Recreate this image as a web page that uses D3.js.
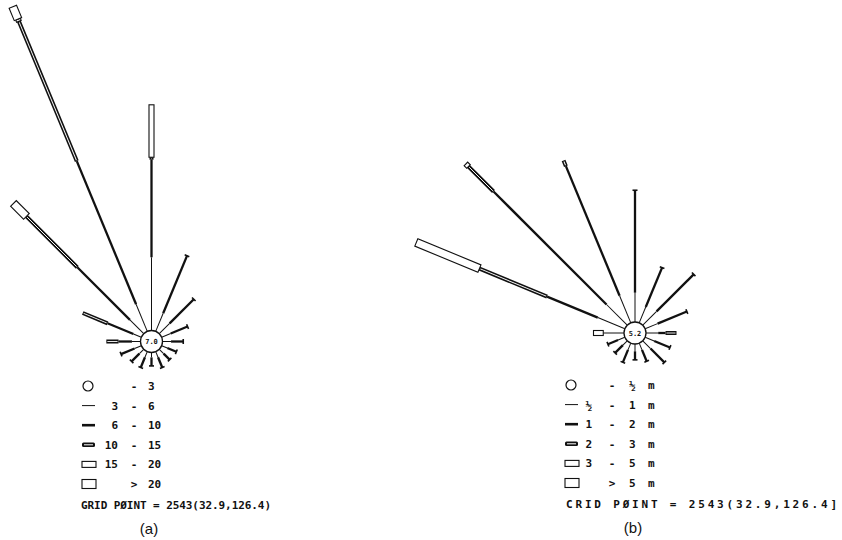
<!DOCTYPE html>
<html>
<head>
<meta charset="utf-8">
<script src="https://cdn.jsdelivr.net/npm/d3@7/dist/d3.min.js"></script>
<style>
  body { margin: 0; background: #fff; }
  text { font-family: "DejaVu Sans Mono", monospace; fill: #111; }
</style>
</head>
<body>
<svg id="chart" width="842" height="540"></svg>
<script>
// 16 directions, clockwise from north
var directions = ["N","NNE","NE","ENE","E","ESE","SE","SSE","S","SSW","SW","WSW","W","WNW","NW","NNW"];

// frequency (%) per direction, split by class (class 1..5, from inside out)
var roseA = [
  [6.0, 8.0, 0.2, 4.3, 0],
  [1.6, 5.1],
  [1.2, 2.8],
  [0.8, 1.5],
  [0.7, 1.0],
  [0.5, 0.8],
  [0.5, 0.7],
  [0.5, 0.9],
  [0.4, 0.7],
  [0.5, 0.9],
  [0.5, 0.9],
  [0.6, 1.2],
  [0.7, 1.1, 1.0],
  [0.7, 2.3, 2.2],
  [1.6, 6.1, 5.9, 0, 1.5],
  [2.4, 12.7, 12.4, 0.2, 1.1]
];
var roseB = [
  [2.4, 8.4],
  [1.4, 3.5],
  [1.6, 4.3],
  [1.1, 2.6],
  [1.0, 0.6, 0.9],
  [0.8, 1.4],
  [0.9, 1.6],
  [0.6, 1.0],
  [0.6, 0.7],
  [0.6, 1.1],
  [0.5, 0.9],
  [0.6, 0.9],
  [1.7, 0, 0, 0.8],
  [2.4, 4.5, 6.0, 0, 5.6],
  [2.4, 13.1, 2.9, 0.3],
  [2.4, 11.5, 0.5]
];
var calmA = "7.0", calmB = "5.2";

// legend rows: [low, separator, high, unit]
var legendA = [["", "-", "3", ""], ["3", "-", "6", ""], ["6", "-", "10", ""],
               ["10", "-", "15", ""], ["15", "-", "20", ""], ["", ">", "20", ""]];
var legendB = [["", "-", "\u00BD", "m"], ["\u00BD", "-", "1", "m"], ["1", "-", "2", "m"],
               ["2", "-", "3", "m"], ["3", "-", "5", "m"], ["", ">", "5", "m"]];
var gridLabel = "GRID P\u00D8INT = 2543(32.9,126.4)";
var gridLabelB = "CRID P\u00D8INT = 2543(32.9,126.4]";

var svg = d3.select("#chart");
var r0 = 11;
var rScale = d3.scaleLinear().domain([0, 30]).range([r0, r0 + 30 * 12.2]);
var angle = d3.scaleLinear().domain([0, directions.length]).range([0, 360]);

function drawRose(cx, cy, data, calm) {
  var g = svg.append("g").attr("transform", "translate(" + cx + "," + cy + ")");
  data.forEach(function(vals, i) {
    var arm = g.append("g").attr("transform", "rotate(" + angle(i) + ")");
    var acc = 0, last = -1;
    vals.forEach(function(v, k) {
      if (!v) return;
      var a = rScale(acc), b = rScale(acc + v);
      acc += v;
      last = k;
      if (k < 2) {
        arm.append("line").attr("x1", 0).attr("x2", 0).attr("y1", -a).attr("y2", -b)
          .attr("stroke", "#111").attr("stroke-width", k == 0 ? 1 : 2.3);
      } else if (k == 2) {
        arm.append("rect").attr("x", -2).attr("width", 4).attr("y", -b).attr("height", b - a)
          .attr("fill", "#111");
        arm.append("line").attr("x1", 0).attr("x2", 0).attr("y1", -a - 1).attr("y2", -b + 1)
          .attr("stroke", "#fff").attr("stroke-width", 0.9);
      } else {
        var w = k == 3 ? 5 : 8;
        arm.append("rect").attr("x", -w / 2).attr("width", w).attr("y", -b).attr("height", b - a)
          .attr("fill", "#fff").attr("stroke", "#111").attr("stroke-width", 1.1);
      }
    });
    // pen cap at the tip of line arms
    if (last < 2) {
      var t = rScale(acc);
      arm.append("line").attr("x1", -2.5).attr("x2", 2.5).attr("y1", -t).attr("y2", -t)
        .attr("stroke", "#111").attr("stroke-width", 1.6);
    }
  });
  g.append("circle").attr("r", r0).attr("fill", "#fff").attr("stroke", "#111").attr("stroke-width", 1.3);
  g.append("text").attr("y", 2.5).attr("text-anchor", "middle")
    .style("font-size", "7px").style("font-weight", "bold").text(calm);
}

function drawLegend(o) {
  var g = svg.append("g").style("font-weight", "bold").style("font-size", "11px");
  o.rows.forEach(function(row, i) {
    var y = o.y0 + i * o.dy, cy = y - 4, sx = o.sx;
    if (i == 0) {
      g.append("circle").attr("cx", sx + 6).attr("cy", cy).attr("r", 5)
        .attr("fill", "none").attr("stroke", "#111").attr("stroke-width", 1.2);
    } else if (i < 3) {
      g.append("line").attr("x1", sx).attr("x2", sx + 13).attr("y1", cy).attr("y2", cy)
        .attr("stroke", "#111").attr("stroke-width", i == 1 ? 1 : 2.6);
    } else if (i == 3) {
      g.append("rect").attr("x", sx).attr("y", cy - 2.2).attr("width", 13).attr("height", 4.4)
        .attr("rx", 1.5).attr("fill", "#111");
      g.append("line").attr("x1", sx + 2).attr("x2", sx + 11).attr("y1", cy).attr("y2", cy)
        .attr("stroke", "#fff").attr("stroke-width", 1);
    } else {
      var h = i == 4 ? 6 : 9;
      g.append("rect").attr("x", sx).attr("y", cy - h / 2).attr("width", 14).attr("height", h)
        .attr("fill", "#fff").attr("stroke", "#111").attr("stroke-width", 1.1);
    }
    g.append("text").attr("x", o.lowX).attr("y", y).attr("text-anchor", "end").text(row[0]);
    g.append("text").attr("x", o.sepX).attr("y", y).attr("text-anchor", "middle").text(row[1]);
    g.append("text").attr("x", o.highX).attr("y", y).text(row[2]);
    if (row[3]) g.append("text").attr("x", o.unitX).attr("y", y).text(row[3]);
  });
  var gy = o.y0 + o.rows.length * o.dy;
  g.append("text").attr("x", o.gx).attr("y", gy + 1)
    .attr("textLength", o.gw).attr("lengthAdjust", "spacing").text(o.grid);
  g.append("text").attr("x", o.labelX).attr("y", gy + 26).attr("text-anchor", "middle")
    .style("font-family", "'Liberation Sans', Arial, sans-serif").style("font-size", "15px")
    .style("font-weight", "normal").text(o.label);
}

drawRose(151.5, 341.5, roseA, calmA);
drawRose(635, 333, roseB, calmB);

drawLegend({rows: legendA, y0: 390, dy: 19.6, sx: 82, lowX: 118, sepX: 134, highX: 148, unitX: 0,
            gx: 81, gw: 190, grid: gridLabel, labelX: 149, label: "(a)"});
drawLegend({rows: legendB, y0: 389, dy: 19.6, sx: 565, lowX: 592, sepX: 612, highX: 629, unitX: 648,
            gx: 566, gw: 271, grid: gridLabelB, labelX: 633, label: "(b)"});
</script>
</body>
</html>
